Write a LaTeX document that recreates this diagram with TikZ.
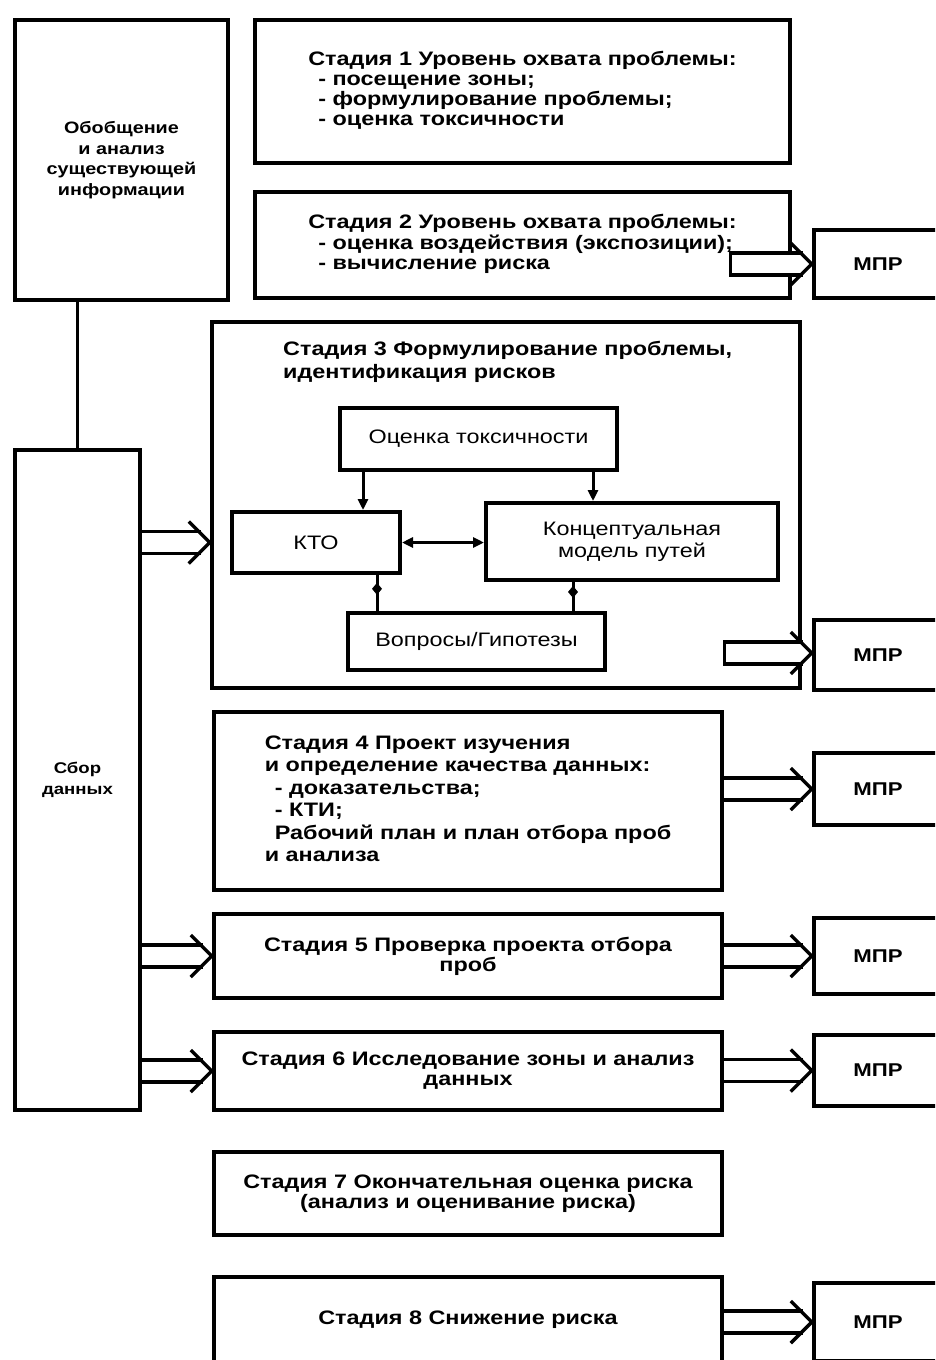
\documentclass[tikz,border=0pt]{standalone}
\usepackage{fontspec}
\setmainfont{Liberation Sans}
\newfontfamily\widefont[FakeStretch=1.2]{Liberation Sans}
\usetikzlibrary{arrows.meta,calc,decorations.markings}
\tikzset{
  box/.style={draw, line width=4.5pt, fill=white, inner sep=0pt, align=center,
    font=\widefont\bfseries\fontsize{19.5}{20}\selectfont},
  inbox/.style={draw, line width=4pt, fill=white, inner sep=0pt, align=center,
    font=\widefont\fontsize{19.5}{22}\selectfont},
  conn/.style={line width=3pt},
  arr/.style={line width=3pt, -{Triangle[length=11pt,width=10pt]}},
  darr/.style={line width=3pt, {Triangle[length=11pt,width=10pt]}-{Triangle[length=11pt,width=10pt]}},
  midmark/.style={line width=3pt, decoration={markings,
     mark=at position 0.55 with {\fill (0,0) -- (-6pt,5pt) -- (-12pt,0) -- (-6pt,-5pt) -- cycle;}},
     postaction={decorate}},
}
% hollow arrow: #1 start, #2 tip (same y)
\newcommand\hollowarrow[2]{%
  \path #1 coordinate (ha1) #2 coordinate (ha2);
  \fill[white] ($(ha1)+(0,-11)$) -- ($(ha2)+(-11,-11)$) -- (ha2) -- ($(ha2)+(-11,11)$) -- ($(ha1)+(0,11)$) -- cycle;
  \draw[line width=3.5pt] ($(ha1)+(0,-11)$) -- ($(ha2)+(-9,-11)$);
  \draw[line width=3.5pt] ($(ha1)+(0,11)$) -- ($(ha2)+(-9,11)$);
  \draw[line width=3.5pt, line join=miter] ($(ha2)+(-21,-21)$) -- (ha2) -- ($(ha2)+(-21,21)$);
}
\newcommand\hollowarrowclosed[2]{%
  \hollowarrow{#1}{#2}%
  \draw[line width=3.5pt] ($(ha1)+(0,-12.75)$) -- ($(ha1)+(0,12.75)$);
}
\begin{document}
\begin{tikzpicture}[x=1pt,y=-1pt]
\useasboundingbox (0,0) rectangle (935,1360);
\clip (0,0) rectangle (935,1360);
\fill[white] (0,0) rectangle (935,1360);

% left column
\node[box, font=\widefont\bfseries\fontsize{16.5}{20.5}\selectfont,
  minimum width=213pt, minimum height=280pt] (L1) at (121.5,160)
  {Обобщение\\и анализ\\существующей\\информации};
\node[box, font=\widefont\bfseries\fontsize{15.5}{21}\selectfont,
  minimum width=125pt, minimum height=660pt] (SD) at (77.5,780)
  {Сбор\\данных};
\draw[conn] (SD.north) -- (SD.north |- L1.south);

% stage 1, 2
\node[box, minimum width=535pt, minimum height=143pt] (S1) at (522.5,91.5)
  {\begin{tabular}{@{}l@{}}Стадия 1 Уровень охвата проблемы:\\
   \hspace*{10pt}- посещение зоны;\\
   \hspace*{10pt}- формулирование проблемы;\\
   \hspace*{10pt}- оценка токсичности\end{tabular}};
\node[box, minimum width=535pt, minimum height=106pt] (S2) at (522.5,245)
  {\begin{tabular}{@{}l@{}}Стадия 2 Уровень охвата проблемы:\\
   \hspace*{10pt}- оценка воздействия (экспозиции);\\
   \hspace*{10pt}- вычисление риска\end{tabular}\rule[-14pt]{0pt}{0pt}};
\node[box, font=\widefont\bfseries\fontsize{18.5}{20}\selectfont,
  minimum width=128pt, minimum height=68pt] (M2) at (878,264) {МПР};

% stage 3
\node[box, minimum width=588pt, minimum height=366pt] (S3) at (506,505) {};
\node[anchor=north west, align=left, inner sep=0pt,
  font=\widefont\bfseries\fontsize{19.5}{23}\selectfont] (S3t) at (283,341)
  {Стадия 3 Формулирование проблемы,\\идентификация рисков};
\node[inbox, minimum width=277pt, minimum height=62pt] (OT) at (478.5,439) {Оценка токсичности};
\node[inbox, minimum width=168pt, minimum height=61pt] (KTO) at (316,542.5) {КТО};
\node[inbox, minimum width=292pt, minimum height=77pt] (KM) at (632,541.5) {Концептуальная\\модель путей};
\node[inbox, minimum width=257pt, minimum height=57pt] (VG) at (476.5,641.5) {Вопросы/Гипотезы};
\node[box, font=\widefont\bfseries\fontsize{18.5}{20}\selectfont,
  minimum width=128pt, minimum height=70pt] (M3) at (878,655) {МПР};

\draw[arr] (OT.south -| 363,0) -- (KTO.north -| 363,0);
\draw[arr] (OT.south -| 593,0) -- (KM.north -| 593,0);
\draw[darr] (KTO.east) -- (KTO.east -| KM.west);
\draw[midmark] (KTO.south -| 377,0) -- (VG.north -| 377,0);
\draw[midmark] (KM.south -| 573,0) -- (VG.north -| 573,0);

% stage 4-8
\node[box, font=\widefont\bfseries\fontsize{19.5}{22.5}\selectfont,
  minimum width=508pt, minimum height=178pt] (S4) at (468,801)
  {\begin{tabular}{@{}l@{}}Стадия 4 Проект изучения\\
   и определение качества данных:\\
   \hspace*{10pt}- доказательства;\\
   \hspace*{10pt}- КТИ;\\
   \hspace*{10pt}Рабочий план и план отбора проб\\
   и анализа\end{tabular}};
\node[box, font=\widefont\bfseries\fontsize{18.5}{20}\selectfont,
  minimum width=128pt, minimum height=72pt] (M4) at (878,789) {МПР};
\node[box, minimum width=508pt, minimum height=84pt] (S5) at (468,956)
  {Стадия 5 Проверка проекта отбора\\проб};
\node[box, font=\widefont\bfseries\fontsize{18.5}{20}\selectfont,
  minimum width=128pt, minimum height=76pt] (M5) at (878,956) {МПР};
\node[box, minimum width=508pt, minimum height=78pt] (S6) at (468,1071)
  {Стадия 6 Исследование зоны и анализ\\данных};
\node[box, font=\widefont\bfseries\fontsize{18.5}{20}\selectfont,
  minimum width=128pt, minimum height=71pt] (M6) at (878,1070.5) {МПР};
\node[box, minimum width=508pt, minimum height=83pt] (S7) at (468,1193.5)
  {Стадия 7 Окончательная оценка риска\\(анализ и оценивание риска)};
\node[box, minimum width=508pt, minimum height=86pt] (S8) at (468,1320)
  {Стадия 8 Снижение риска};
\node[box, font=\widefont\bfseries\fontsize{18.5}{20}\selectfont,
  minimum width=128pt, minimum height=78pt] (M8) at (878,1322) {МПР};

% hollow arrows
\hollowarrowclosed{($(S2.east |- M2.west)+(-62,0)$)}{(M2.west)}
\hollowarrowclosed{($(S3.east |- M3.west)+(-78,-2)$)}{($(M3.west)+(0,-2)$)}
\hollowarrow{(S4.east |- M4.west)}{(M4.west)}
\hollowarrow{(S5.east |- M5.west)}{(M5.west)}
\hollowarrow{(S6.east |- M6.west)}{(M6.west)}
\hollowarrow{(S8.east |- M8.west)}{(M8.west)}
\hollowarrow{(SD.east |- KTO.west)}{(S3.west |- KTO.west)}
\hollowarrow{(SD.east |- S5.west)}{(S5.west)}
\hollowarrow{(SD.east |- S6.west)}{(S6.west)}
\end{tikzpicture}
\end{document}
